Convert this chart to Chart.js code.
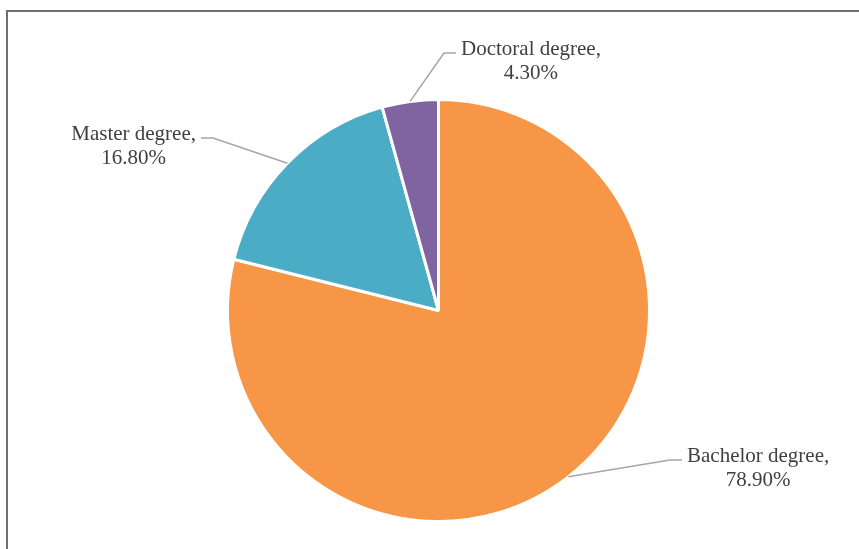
<!DOCTYPE html>
<html>
<head>
<meta charset="utf-8">
<script src="https://cdn.jsdelivr.net/npm/chart.js@4"></script>
<style>
  html, body { margin: 0; padding: 0; background: #fff; }
  #wrap { width: 859px; height: 549px; position: relative; overflow: hidden; }
</style>
</head>
<body>
<div id="wrap"><canvas id="chart" width="859" height="549"></canvas></div>
<script>
// 학위 구성비
const categories = ["Bachelor degree", "Master degree", "Doctoral degree"];
const shares = [78.9, 16.8, 4.3];
const sliceColors = ["#F79646", "#4BACC6", "#8064A2"];

// label elbow points (leader line bend) and which side the text sits on
const labelLayout = [
  { elbow: [670, 460], dir: 1 },
  { elbow: [213, 138], dir: -1 },
  { elbow: [444, 53], dir: 1 },
];

const FONT = '21px "Liberation Serif", "Times New Roman", serif';

// frame around the chart area (runs off the right/bottom edge)
const framePlugin = {
  id: "frame",
  beforeDraw(chart) {
    const ctx = chart.ctx;
    ctx.save();
    ctx.strokeStyle = "#6f6f6f";
    ctx.lineWidth = 2;
    ctx.strokeRect(7, 11, 1000, 1000);
    ctx.restore();
  },
};

// leader lines + two-line labels
const sliceLabels = {
  id: "sliceLabels",
  afterDatasetsDraw(chart) {
    const ctx = chart.ctx;
    const meta = chart.getDatasetMeta(0);
    ctx.save();
    ctx.font = FONT;
    meta.data.forEach((arc, i) => {
      const { x, y, startAngle, endAngle, outerRadius } = arc.getProps(
        ["x", "y", "startAngle", "endAngle", "outerRadius"], true);
      const mid = (startAngle + endAngle) / 2;
      const ax = x + Math.cos(mid) * outerRadius;
      const ay = y + Math.sin(mid) * outerRadius;
      const { elbow, dir } = labelLayout[i];
      const ex = elbow[0] + dir * 12;

      ctx.strokeStyle = "#a6a6a6";
      ctx.lineWidth = 1.5;
      ctx.beginPath();
      ctx.moveTo(ax, ay);
      ctx.lineTo(elbow[0], elbow[1]);
      ctx.lineTo(ex, elbow[1]);
      ctx.stroke();

      const line1 = categories[i] + ",";
      const line2 = shares[i].toFixed(2) + "%";
      const w1 = ctx.measureText(line1).width;
      const cx = dir > 0 ? ex + 5 + w1 / 2 : ex - 5 - w1 / 2;
      ctx.fillStyle = "#404040";
      ctx.textAlign = "center";
      ctx.textBaseline = "alphabetic";
      ctx.fillText(line1, cx, elbow[1] + 2);
      ctx.fillText(line2, cx, elbow[1] + 26);
    });
    ctx.restore();
  },
};

new Chart(document.getElementById("chart").getContext("2d"), {
  type: "pie",
  data: {
    labels: categories,
    datasets: [
      {
        data: shares,
        backgroundColor: sliceColors,
        borderColor: "#ffffff",
        borderWidth: 3,
      },
    ],
  },
  options: {
    responsive: false,
    animation: false,
    events: [],
    layout: {
      padding: { top: 98, bottom: 26, left: 226, right: 208 },
    },
    plugins: {
      legend: { display: false },
      tooltip: { enabled: false },
    },
  },
  plugins: [framePlugin, sliceLabels],
});
</script>
</body>
</html>
